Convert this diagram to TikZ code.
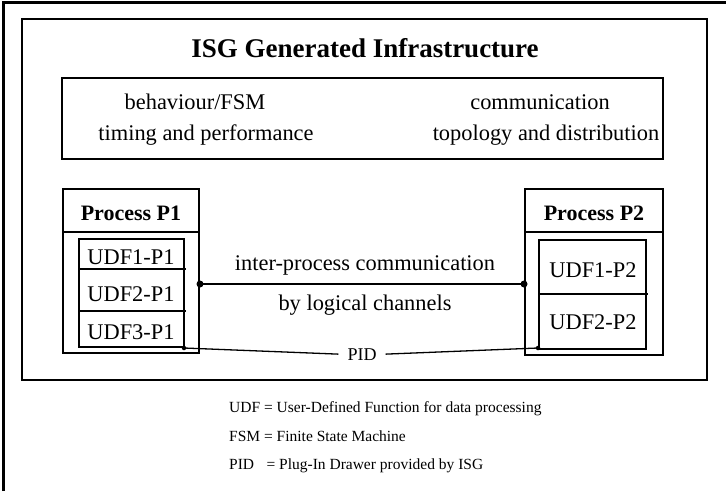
\documentclass[tikz,border=0pt]{standalone}
\usepackage{fontspec}
\setmainfont{Liberation Serif}
\begin{document}
\begin{tikzpicture}[x=1pt,y=-1pt,
  boxline/.style={draw=black,line width=1.8pt},
  thinline/.style={draw=black,line width=1.4pt},
  conn/.style={draw=black,line width=1.3pt},
  bigtxt/.style={inner sep=0pt,anchor=base,font=\fontsize{22.4}{26}\selectfont},
  headtxt/.style={inner sep=0pt,anchor=base,font=\fontsize{22}{26}\selectfont\bfseries},
  legtxt/.style={inner sep=0pt,anchor=base west,font=\fontsize{15.5}{18}\selectfont},
  bigdot/.style={circle,fill=black,inner sep=0pt,minimum size=7pt},
  smalldot/.style={circle,fill=black,inner sep=0pt,minimum size=4.5pt}
]
\useasboundingbox (0,0) rectangle (726,491);
% outer frame (top and left only)
\draw[line width=3pt] (3,491) -- (3,2) -- (726,2);
% infrastructure box
\draw[boxline] (22,19) rectangle (707,380);
\node[inner sep=0pt,anchor=base,font=\fontsize{27}{31}\selectfont\bfseries] (title) at (365,57) {ISG Generated Infrastructure};
% feature box
\draw[boxline] (62,78) rectangle (663,159);
\node[bigtxt] (beh) at (195,109) {behaviour/FSM};
\node[bigtxt] (tim) at (206,140) {timing and performance};
\node[bigtxt] (com) at (540,109) {communication};
\node[bigtxt] (top) at (546,140) {topology and distribution};
% Process P1
\draw[boxline] (63,189) rectangle (199,353);
\draw[boxline] (63,232) -- (199,232);
\node[headtxt] (p1head) at (131,220) {Process P1};
\draw[thinline] (79,239) rectangle (184,347);
\draw[thinline] (79,269) -- (186,269);
\draw[thinline] (79,311) -- (186,311);
\node[bigtxt] (u1p1) at (131,264.5) {UDF1-P1};
\node[bigtxt] (u2p1) at (131,301.5) {UDF2-P1};
\node[bigtxt] (u3p1) at (131,339.5) {UDF3-P1};
% Process P2
\draw[boxline] (525,189) rectangle (663,355);
\draw[boxline] (525,232) -- (663,232);
\node[headtxt] (p2head) at (594,220) {Process P2};
\draw[thinline] (539,240) rectangle (646,349);
\draw[thinline] (539,294) -- (648,294);
\node[bigtxt] (u1p2) at (593,277.5) {UDF1-P2};
\node[bigtxt] (u2p2) at (593,329.5) {UDF2-P2};
% inter-process communication
\node[bigdot] (c1) at (200,284) {};
\node[bigdot] (c2) at (524,284) {};
\draw[conn] (c1.center) -- (c2.center);
\node[bigtxt] (ipc1) at (365,270) {inter-process communication};
\node[bigtxt] (ipc2) at (365,310) {by logical channels};
% PID
\node[smalldot] (d1) at (184,348) {};
\node[smalldot] (d2) at (538,348) {};
\node[inner ysep=0pt,inner xsep=9pt,anchor=base,font=\fontsize{18}{21}\selectfont] (pid) at (362,360) {PID};
\draw[conn] (d1.center) -- (pid.west);
\draw[conn] (pid.east) -- (d2.center);
% legend
\node[legtxt] (l1) at (229,412) {UDF = User-Defined Function for data processing};
\node[legtxt] (l2) at (229,441) {FSM = Finite State Machine};
\node[legtxt] (l3) at (229,469) {PID\hspace{0.8em}= Plug-In Drawer provided by ISG};
\end{tikzpicture}
\end{document}
